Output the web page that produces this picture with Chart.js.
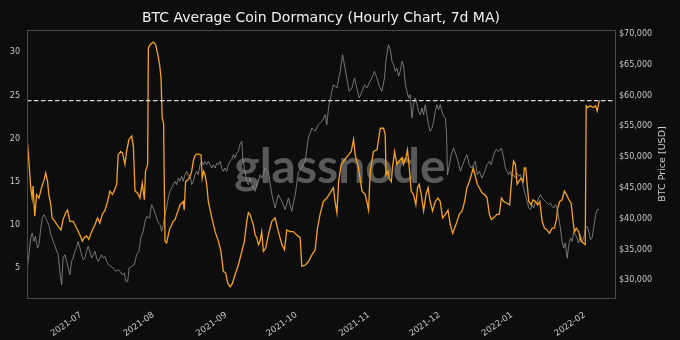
<!DOCTYPE html>
<html>
<head>
<meta charset="utf-8">
<title>BTC Average Coin Dormancy</title>
<script src="https://cdn.jsdelivr.net/npm/chart.js@4.4.0/dist/chart.umd.min.js"></script>
<style>
    html, body { margin: 0; padding: 0; background: #0d0d0d; }
    #wrap { width: 680px; height: 340px; }
</style>
</head>
<body>
<div id="wrap"><canvas id="dormancyChart" width="680" height="340"></canvas></div>
<script>
// ===========================
// BTC average coin dormancy (7d MA) vs BTC price
// x values are days counted from 2021-07-01 (negative = June 2021)
// ===========================

const chartTitle = 'BTC Average Coin Dormancy (Hourly Chart, 7d MA)';
const priceAxisTitle = 'BTC Price [USD]';
const watermarkText = 'glassnode';

// [day, dormancy]
const dormancyPoints = [
    [-22.8, 19.5], [-22.2, 17.4], [-21.4, 14.3], [-20.8, 13.1], [-20.4, 14.5], [-19.7, 11.0], [-18.9, 13.5], [-17.9, 13.1], [-16.8, 14.3], [-15.7, 15.2],
    [-15.0, 16.0], [-14.2, 15.0], [-13.7, 13.5], [-12.8, 12.3], [-12.3, 10.8], [-11.1, 10.4], [-9.7, 9.8], [-8.5, 9.4], [-7.6, 10.6], [-6.5, 11.4],
    [-5.7, 11.7], [-4.7, 10.4], [-3.3, 10.4], [-1.8, 9.6], [-0.4, 8.8], [0.6, 8.1], [1.4, 8.5], [2.4, 8.7], [3.4, 8.3], [4.6, 9.2],
    [6.0, 10.0], [7.1, 10.8], [8.1, 10.2], [9.1, 11.2], [10.3, 11.7], [11.4, 12.7], [12.4, 13.9], [13.4, 13.5], [14.2, 13.9], [15.3, 14.7],
    [15.9, 18.1], [17.0, 18.5], [17.8, 18.3], [18.8, 17.0], [19.5, 18.5], [20.5, 19.9], [21.7, 20.3], [22.4, 19.1], [23.1, 13.9], [24.2, 13.7],
    [25.2, 13.1], [26.2, 14.8], [27.1, 12.9], [27.6, 16.2], [28.5, 17.0], [28.8, 30.5], [29.5, 30.9], [30.9, 31.2], [31.9, 30.9], [32.8, 29.8],
    [33.6, 28.6], [34.2, 27.1], [34.7, 22.4], [35.3, 21.8], [35.9, 8.1], [36.6, 7.9], [37.3, 8.8], [38.0, 9.6], [38.8, 10.0], [39.4, 10.4],
    [40.2, 10.6], [40.9, 11.2], [41.6, 11.7], [42.3, 12.3], [43.0, 12.5], [43.7, 12.7], [44.1, 11.7], [44.7, 15.0], [45.6, 15.2], [46.6, 15.6],
    [47.3, 16.2], [48.0, 17.4], [48.7, 18.0], [49.4, 18.2], [50.4, 18.2], [51.3, 18.1], [51.8, 15.4], [52.4, 16.2], [53.0, 15.8], [53.7, 14.7],
    [54.4, 12.7], [55.9, 10.8], [57.3, 9.2], [58.7, 8.1], [59.8, 6.9], [60.8, 4.6], [61.8, 4.4], [62.7, 3.2], [63.7, 2.8], [64.7, 3.2],
    [65.8, 4.2], [67.2, 5.3], [68.7, 6.9], [69.8, 8.1], [70.8, 10.4], [71.5, 11.4], [72.2, 11.2], [72.9, 10.6], [73.6, 10.0], [74.4, 8.8],
    [75.1, 8.5], [75.8, 7.7], [76.5, 8.1], [77.2, 9.2], [77.9, 6.9], [78.9, 7.3], [80.0, 8.8], [81.5, 10.4], [82.9, 10.8], [84.3, 9.2],
    [85.8, 7.7], [86.9, 7.1], [87.9, 9.4], [89.3, 9.2], [90.7, 9.2], [92.2, 8.8], [93.6, 8.5], [94.3, 5.2], [95.7, 5.3], [97.1, 5.7],
    [98.6, 6.5], [100.0, 7.1], [101.0, 9.6], [102.1, 11.2], [103.5, 12.7], [105.0, 13.1], [106.4, 13.7], [107.8, 14.3], [108.5, 12.7], [109.3, 11.4],
    [110.0, 15.0], [111.1, 17.0], [112.8, 17.6], [114.2, 18.1], [115.4, 18.5], [116.4, 19.9], [117.1, 18.1], [118.5, 16.6], [120.0, 13.9], [121.4, 13.5],
    [122.8, 11.7], [123.5, 16.2], [124.9, 18.5], [126.4, 18.7], [127.8, 21.2], [129.2, 21.2], [129.9, 20.5], [130.3, 15.8], [131.1, 16.2], [131.6, 15.4],
    [132.5, 15.0], [133.0, 16.6], [133.9, 18.5], [134.9, 17.0], [135.9, 17.4], [137.1, 17.8], [137.7, 17.0], [138.8, 17.8], [139.4, 18.7], [140.2, 16.6],
    [141.0, 13.9], [142.0, 13.5], [143.0, 12.3], [143.7, 14.3], [144.4, 14.7], [145.3, 13.5], [146.3, 11.6], [147.3, 13.5], [148.2, 14.3], [149.1, 12.7],
    [150.1, 11.6], [151.3, 12.7], [152.4, 13.1], [153.4, 12.7], [154.4, 10.8], [155.6, 11.2], [156.7, 11.7], [157.7, 10.0], [158.7, 9.0], [159.5, 9.6],
    [160.6, 10.4], [161.5, 11.2], [162.7, 11.6], [163.8, 12.7], [164.8, 14.3], [165.8, 15.0], [166.7, 15.8], [167.5, 16.6], [168.4, 15.6], [169.2, 14.7],
    [170.1, 14.3], [171.2, 13.7], [172.4, 13.5], [173.4, 13.1], [174.4, 11.2], [175.2, 10.6], [176.2, 10.8], [177.6, 11.2], [178.6, 11.2], [179.5, 13.1],
    [180.5, 12.7], [181.9, 12.5], [183.0, 12.3], [183.6, 14.3], [184.2, 16.2], [184.7, 17.4], [185.5, 17.0], [186.2, 14.7], [186.9, 15.0], [187.9, 15.4],
    [188.8, 15.0], [189.3, 16.6], [189.9, 16.6], [190.5, 14.7], [191.2, 12.7], [192.2, 12.3], [193.0, 12.9], [194.0, 12.7], [195.0, 12.3], [195.9, 12.7],
    [196.9, 10.4], [197.9, 9.6], [199.0, 9.4], [200.0, 9.0], [201.2, 9.6], [202.1, 9.6], [203.0, 10.6], [203.5, 11.9], [204.4, 12.7], [205.4, 12.9],
    [206.4, 13.9], [207.3, 13.5], [208.3, 12.9], [209.3, 12.5], [210.1, 10.4], [210.7, 9.2], [211.5, 9.6], [212.5, 9.2], [213.5, 8.1], [214.4, 7.9],
    [215.3, 7.7], [215.7, 23.8], [216.4, 23.6], [217.5, 23.8], [218.7, 23.6], [219.7, 23.8], [220.4, 23.2], [221.1, 24.2], [221.5, 24.4]
];

// [day, BTC price in USD]
const pricePoints = [
    [-22.8, 32000], [-22.2, 34160], [-21.4, 36870], [-20.8, 37680], [-20.0, 36330], [-19.4, 37150], [-18.5, 35250], [-17.9, 35780], [-17.1, 38490], [-16.5, 40120],
    [-15.7, 40650], [-14.7, 39840], [-13.7, 39030], [-12.8, 37410], [-11.8, 36330], [-10.8, 35250], [-9.7, 34160], [-9.0, 31460], [-8.2, 29290], [-7.6, 33620],
    [-6.8, 34160], [-6.1, 33090], [-5.4, 32000], [-4.7, 30910], [-4.0, 33090], [-3.3, 33620], [-2.6, 34710], [-1.8, 35250], [-1.2, 36330], [-0.4, 35250],
    [0.3, 34160], [1.0, 33350], [1.7, 33620], [2.4, 34710], [3.1, 35520], [3.8, 34710], [4.6, 33620], [5.3, 34160], [6.0, 34710], [6.7, 33620],
    [7.4, 33090], [8.1, 33620], [8.8, 34160], [9.5, 33620], [10.3, 33890], [11.0, 33090], [11.7, 32540], [12.8, 32270], [13.8, 32000], [14.8, 31460],
    [15.9, 31720], [16.7, 31460], [17.6, 30910], [18.5, 31190], [19.2, 29840], [20.0, 29840], [20.6, 32000], [21.7, 32270], [22.8, 32540], [23.8, 34160],
    [24.8, 34710], [25.6, 36870], [26.6, 37950], [27.4, 39580], [28.1, 40390], [29.1, 40120], [29.5, 40650], [30.2, 42280], [30.9, 41740], [31.9, 40650],
    [32.8, 39580], [33.8, 39030], [34.5, 37950], [35.2, 39030], [35.9, 40650], [36.6, 41740], [37.3, 43370], [38.0, 44460], [38.8, 44990], [39.4, 45530],
    [40.2, 46080], [40.9, 45530], [41.6, 46610], [42.3, 46080], [43.0, 46890], [43.7, 46080], [44.4, 47150], [45.2, 47700], [45.9, 46890], [46.6, 47150],
    [47.3, 45530], [48.0, 46080], [48.7, 47150], [49.4, 47700], [50.1, 47150], [50.9, 48770], [51.6, 49330], [52.3, 48770], [53.0, 49330], [53.7, 48770],
    [54.4, 49330], [55.1, 48770], [55.9, 48240], [56.5, 48770], [57.3, 48240], [58.0, 49050], [58.7, 48770], [59.4, 49330], [60.1, 48240], [60.8, 47700],
    [61.5, 48240], [62.3, 47700], [62.9, 48770], [63.7, 49330], [64.4, 49590], [65.1, 50400], [65.8, 49860], [66.5, 50670], [67.2, 50950], [67.9, 52020],
    [68.7, 52570], [69.1, 49860], [69.8, 48240], [70.8, 46080], [71.5, 45530], [72.2, 46610], [72.9, 45530], [73.6, 44990], [74.4, 44460], [75.1, 45530],
    [75.8, 46080], [76.5, 47150], [77.2, 46610], [77.9, 47150], [78.6, 48240], [80.0, 47700], [81.5, 44000], [82.9, 41740], [84.3, 43900], [85.8, 42830],
    [87.2, 41470], [88.6, 43370], [90.0, 41200], [91.5, 43900], [92.9, 47700], [94.3, 48240], [95.7, 49330], [97.1, 53110], [98.6, 54730], [100.0, 54200],
    [101.4, 55270], [102.9, 55820], [104.3, 56900], [105.0, 55270], [105.7, 57980], [107.1, 60690], [107.8, 61770], [109.3, 61230], [110.7, 63940], [111.7, 66640],
    [112.5, 65010], [113.5, 62850], [114.5, 60690], [115.7, 61230], [116.8, 62850], [117.8, 61230], [118.8, 59610], [120.0, 60690], [121.1, 61770], [122.1, 61230],
    [123.1, 62040], [124.2, 62850], [125.3, 63940], [126.4, 62850], [127.4, 61500], [128.5, 60690], [129.6, 62850], [130.2, 65570], [130.6, 66640], [131.3, 68260],
    [132.1, 67450], [132.8, 65570], [133.5, 65010], [134.2, 63940], [134.9, 64480], [135.6, 63130], [136.3, 63940], [137.1, 65570], [137.7, 65010], [138.5, 61770],
    [139.2, 60690], [139.9, 59610], [140.6, 60150], [141.3, 56360], [142.0, 58520], [142.7, 59610], [143.5, 58520], [144.1, 57450], [144.9, 56900], [145.6, 57980],
    [146.3, 56900], [147.0, 58520], [147.7, 56900], [148.4, 55270], [149.1, 54200], [149.9, 54730], [150.6, 55820], [151.3, 57450], [152.0, 58520], [152.7, 57720],
    [153.4, 58520], [154.1, 57450], [154.8, 56630], [155.6, 56360], [156.1, 53650], [156.5, 47150], [157.3, 48770], [158.1, 50400], [159.1, 51490], [160.1, 50400],
    [161.0, 49330], [162.0, 47700], [163.0, 48770], [164.1, 49860], [164.8, 50400], [165.8, 48770], [166.7, 48240], [167.6, 48770], [168.4, 49330], [169.2, 47150],
    [170.1, 47700], [171.2, 46610], [172.4, 47700], [173.4, 48770], [174.4, 49330], [175.2, 48770], [176.2, 50400], [177.2, 51220], [178.3, 50950], [179.5, 51490],
    [180.5, 49860], [181.2, 48240], [181.9, 47700], [182.6, 47150], [183.3, 47700], [184.1, 46890], [184.7, 47150], [185.5, 46610], [186.2, 47430], [186.9, 46890],
    [187.6, 47150], [188.3, 46080], [189.0, 44990], [189.7, 43900], [190.5, 42830], [191.2, 41740], [191.9, 41470], [192.6, 42280], [193.3, 41740], [194.0, 42830],
    [194.7, 42550], [195.4, 43370], [196.2, 43900], [196.9, 43370], [197.6, 43090], [198.3, 42830], [199.0, 42550], [199.7, 42280], [200.4, 42550], [201.2, 42010],
    [201.8, 41740], [202.6, 42280], [203.3, 41740], [204.0, 40120], [204.7, 38490], [205.4, 36330], [206.1, 35250], [206.8, 36060], [207.6, 33600], [208.3, 35780],
    [209.0, 36870], [209.7, 36330], [210.4, 37950], [211.1, 37410], [211.8, 36870], [212.5, 36060], [213.2, 37410], [214.0, 36330], [214.7, 36870], [215.4, 38490],
    [216.1, 38760], [216.8, 37950], [217.5, 36600], [218.2, 36870], [218.9, 38490], [219.7, 40650], [220.4, 41470], [221.1, 41470]
];

const thresholdLevel = 24.4;

// x axis window and month ticks (days from 2021-07-01)
const xRange = [-23, 228];
const monthTickDays = [0, 31, 62, 92, 123, 153, 184, 215];
const monthTickLabels = ['2021-07', '2021-08', '2021-09', '2021-10', '2021-11', '2021-12', '2022-01', '2022-02'];

const dormancyRange = [1.5, 32.6];
const dormancyTicks = [5, 10, 15, 20, 25, 30];
const priceRange = [27130, 70650];
const priceTicks = [30000, 35000, 40000, 45000, 50000, 55000, 60000, 65000, 70000];

Chart.defaults.font.family = "'DejaVu Sans', sans-serif";

// Background, watermark, frame, title and right axis title
const decorPlugin = {
    id: 'decor',
    beforeDraw(chart) {
        const ctx = chart.ctx;
        ctx.save();
        ctx.fillStyle = '#0d0d0d';
        ctx.fillRect(0, 0, chart.width, chart.height);
        ctx.restore();
    },
    beforeDatasetsDraw(chart) {
        const ctx = chart.ctx;
        const area = chart.chartArea;
        ctx.save();
        ctx.font = "bold 48px Lato, 'Noto Sans', sans-serif";
        ctx.fillStyle = 'rgba(115, 115, 115, 0.75)';
        ctx.textAlign = 'center';
        ctx.textBaseline = 'alphabetic';
        ctx.fillText(watermarkText, (area.left + area.right) / 2 + 19, 183);
        ctx.restore();
    },
    afterDraw(chart) {
        const ctx = chart.ctx;
        const area = chart.chartArea;
        ctx.save();
        ctx.strokeStyle = '#4a4a4a';
        ctx.lineWidth = 1;
        ctx.strokeRect(area.left + 0.5, area.top + 0.5, area.right - area.left, area.bottom - area.top);

        ctx.fillStyle = '#f2f2f2';
        ctx.font = "14px 'DejaVu Sans', sans-serif";
        ctx.textAlign = 'center';
        ctx.textBaseline = 'middle';
        ctx.fillText(chartTitle, (area.left + area.right) / 2, 18);

        ctx.fillStyle = '#d0d0d0';
        ctx.font = "9.5px 'DejaVu Sans', sans-serif";
        ctx.translate(663, (area.top + area.bottom) / 2);
        ctx.rotate(-Math.PI / 2);
        ctx.fillText(priceAxisTitle, 0, 0);
        ctx.restore();
    }
};

function toXY(points) {
    return points.map(p => ({ x: p[0], y: p[1] }));
}

new Chart(document.getElementById('dormancyChart'), {
    type: 'line',
    data: {
        datasets: [{
            label: 'Threshold',
            data: [{ x: xRange[0], y: thresholdLevel }, { x: xRange[1], y: thresholdLevel }],
            yAxisID: 'y',
            borderColor: '#d8d8d8',
            borderWidth: 1.2,
            borderDash: [4.5, 2.5],
            pointRadius: 0,
            order: 1
        }, {
            label: 'Average Coin Dormancy',
            data: toXY(dormancyPoints),
            yAxisID: 'y',
            borderColor: '#f7a21b',
            borderWidth: 1.3,
            pointRadius: 0,
            tension: 0,
            order: 2
        }, {
            label: 'BTC Price',
            data: toXY(pricePoints),
            yAxisID: 'y1',
            borderColor: '#8e8e8e',
            borderWidth: 0.8,
            pointRadius: 0,
            tension: 0,
            order: 3
        }]
    },
    options: {
        responsive: false,
        animation: false,
        devicePixelRatio: 1,
        layout: { padding: { top: 30, left: 0, right: 0, bottom: 0 } },
        plugins: {
            legend: { display: false },
            tooltip: { enabled: false },
            title: { display: false }
        },
        scales: {
            x: {
                type: 'linear',
                min: xRange[0],
                max: xRange[1],
                grid: { display: false, drawTicks: false },
                border: { display: false },
                afterBuildTicks: scale => {
                    scale.ticks = monthTickDays.map(v => ({ value: v }));
                },
                afterFit: scale => { scale.height = 42; },
                ticks: {
                    autoSkip: false,
                    minRotation: 35,
                    maxRotation: 35,
                    padding: 12,
                    color: '#c8c8c8',
                    font: { size: 8.5 },
                    callback: value => monthTickLabels[monthTickDays.indexOf(value)]
                }
            },
            y: {
                position: 'left',
                min: dormancyRange[0],
                max: dormancyRange[1],
                grid: { display: false, drawTicks: false },
                border: { display: false },
                afterBuildTicks: scale => {
                    scale.ticks = dormancyTicks.map(v => ({ value: v }));
                },
                afterFit: scale => { scale.width = 27; },
                ticks: {
                    padding: 7,
                    color: '#c8c8c8',
                    font: { size: 8 }
                }
            },
            y1: {
                position: 'right',
                min: priceRange[0],
                max: priceRange[1],
                grid: { display: false, drawTicks: false },
                border: { display: false },
                afterBuildTicks: scale => {
                    scale.ticks = priceTicks.map(v => ({ value: v }));
                },
                afterFit: scale => { scale.width = 65; },
                ticks: {
                    padding: 4,
                    color: '#c8c8c8',
                    font: { size: 8 },
                    callback: value => '$' + value.toLocaleString('en-US')
                }
            }
        }
    },
    plugins: [decorPlugin]
});
</script>
</body>
</html>
